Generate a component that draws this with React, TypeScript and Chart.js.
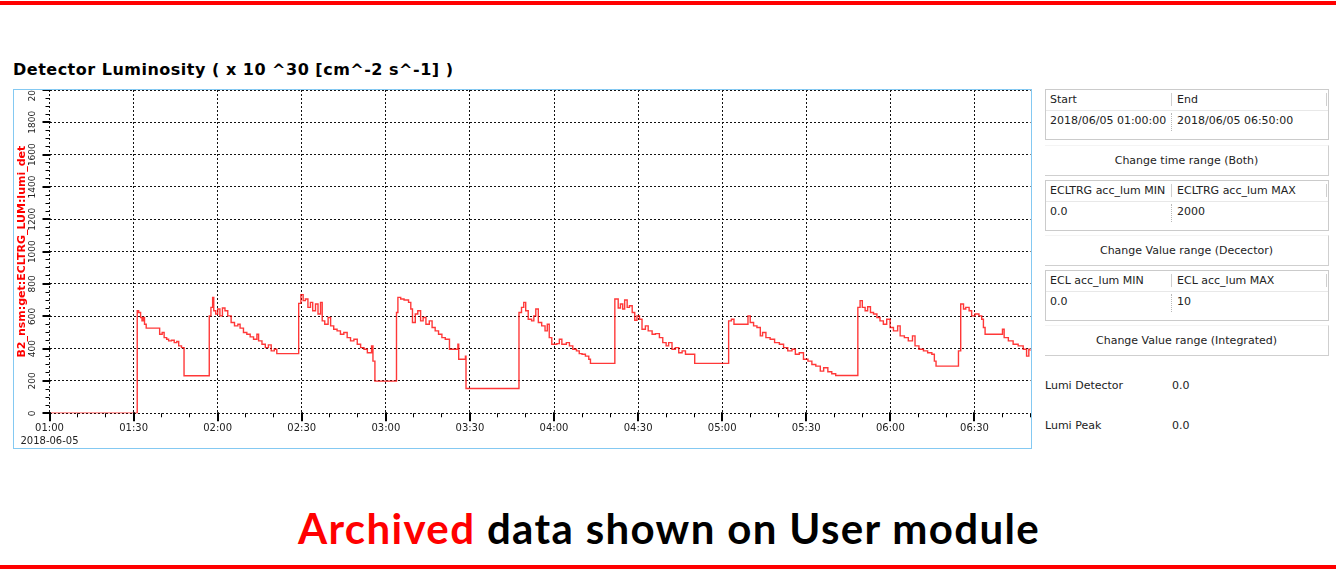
import React, { useEffect, useRef } from 'react';
import { Chart, registerables } from 'chart.js';

Chart.register(...registerables);

// ---- data (minutes after 01:00 on 2018-06-05, luminosity x10^30) ----
const SAMPLE_MINUTES = [
  0, 31.3, 31.8, 32.5, 33.0, 33.5, 33.9, 34.5, 39.3, 40.2, 40.9, 41.8, 42.5, 43.5, 44.5, 45.4, 46.1, 47.1,
  48.0, 57.0, 57.6, 58.2, 58.6, 59.3, 60.0, 60.8, 61.7, 62.6, 63.6, 64.8, 66.0, 67.2, 68.0, 69.2, 70.4, 71.6,
  72.8, 74.0, 74.6, 75.8, 77.0, 78.1, 79.1, 80.2, 81.1,
  88.9, 89.7, 90.5, 91.3, 92.2, 93.1, 93.9, 94.9, 95.8, 96.7, 97.3, 98.2, 99.4, 100.3, 101.4, 102.6, 103.8,
  105.0, 106.2, 107.4, 108.6, 109.8, 111.0, 112.2, 113.4, 114.9, 115.4, 116.1,
  123.8, 124.3, 125.3, 126.5, 128.1, 128.9, 129.5, 130.5, 131.4, 132.4, 133.3, 134.3, 135.5, 136.5, 137.6,
  138.8, 140.0, 141.2, 142.7, 145.7, 146.0, 148.4, 148.6,
  167.5, 168.4, 169.2, 169.9, 170.8, 172.0, 172.8, 173.5, 174.4, 175.6, 176.8, 177.6, 178.3, 179.2, 181.0,
  181.9, 182.8, 184.4, 185.5, 186.7, 188.0, 189.0, 190.0, 191.2, 192.4, 193.0,
  201.7, 202.9, 203.7, 204.5, 205.2, 206.1, 206.9, 207.9, 208.8, 209.6, 210.5, 211.4, 212.6, 213.6, 215.0,
  216.2, 217.6, 218.8, 220.0, 220.9, 222.1, 223.3, 224.5, 225.7, 226.9, 230.2,
  242.3, 243.3, 244.2, 249.2, 250.0, 251.2, 252.4, 253.6, 254.4, 255.6, 257.1, 258.7, 260.4, 261.9, 263.4,
  264.9, 266.1, 267.5, 269.0, 270.6, 272.0, 273.4, 275.0, 276.2, 277.7, 279.1, 280.5,
  288.4, 289.2, 290.0, 291.0, 291.9, 292.9, 294.0, 295.2, 296.3, 297.5, 298.7, 299.9, 301.1, 302.6, 303.5,
  305.0, 306.4, 307.9, 308.8, 310.2, 311.8, 313.3, 314.8, 315.7, 316.3,
  324.3, 325.1, 326.1, 326.9, 328.1, 329.0, 330.2, 331.6, 332.6, 333.2, 333.8, 340.0, 340.6, 342.1, 343.8,
  345.6, 347.4, 348.6, 349.4, 350.0,
];

const LUMI_VALUES = [
  0, 634, 624, 593, 572, 593, 551, 527, 489, 500, 468, 458, 448, 452, 437, 444, 417, 406,
  232, 603, 655, 717, 634, 614, 645, 603, 651, 634, 603, 562, 541, 551, 527, 500, 489, 473,
  458, 489, 448, 427, 406, 423, 386, 396, 369,
  680, 734, 697, 707, 655, 686, 634, 676, 614, 686, 572, 551, 593, 541, 520, 510, 489,
  500, 468, 448, 458, 427, 406, 396, 375, 417, 323, 199,
  624, 717, 707, 701, 686, 645, 562, 614, 634, 572, 593, 551, 572, 531, 510,
  489, 468, 458, 396, 427, 334, 354, 153,
  624, 655, 686, 634, 582, 572, 603, 645, 562, 541, 510, 551, 468, 427, 431,
  458, 427, 437, 417, 396, 386, 369, 365, 354, 334, 309,
  707, 651, 676, 645, 701, 655, 665, 624, 576, 603, 582, 520, 541, 510, 489,
  493, 468, 437, 417, 437, 396, 406, 375, 386, 365, 309,
  572, 582, 551, 603, 562, 541, 531, 479, 500, 468, 458, 437, 427, 406, 386,
  396, 365, 375, 334, 323, 302, 292, 261, 282, 257, 245, 234,
  655, 697, 655, 634, 659, 624, 614, 593, 572, 551, 582, 531, 510, 541, 479,
  468, 448, 479, 417, 396, 386, 375, 365, 323, 292,
  386, 676, 645, 655, 634, 603, 614, 603, 582, 531, 489, 520, 468, 448, 427,
  417, 396, 354, 396, 385,
];

const START_MINUTE_OF_DAY = 60; // 01:00
const START_DATE = '2018-06-05';
const X_MAX = 350; // 06:50
const X_MAJOR = 30;
const X_MINOR = 10;
const Y_MAX = 2000;
const Y_MAJOR = 200;
const Y_MINOR = 50;

const CHART_TITLE = 'Detector Luminosity ( x 10 ^30 [cm^-2 s^-1] )';
const Y_TITLE = 'B2_nsm:get:ECLTRG_LUM:lumi_det';
const FONT = "'DejaVu Sans'";

function hhmm(offset: number): string {
  const total = Math.round(START_MINUTE_OF_DAY + offset);
  const h = Math.floor(total / 60);
  const m = total % 60;
  return String(h).padStart(2, '0') + ':' + String(m).padStart(2, '0');
}

const tickMarks = {
  id: 'tickMarks',
  afterDraw(chart: any) {
    const { ctx, chartArea } = chart;
    const x = chart.scales.x;
    const y = chart.scales.y;
    ctx.save();
    ctx.strokeStyle = '#000';
    for (let v = 0; v <= X_MAX; v += X_MINOR) {
      const major = v % X_MAJOR === 0;
      const p = x.getPixelForValue(v);
      ctx.lineWidth = major ? 2 : 1;
      const px = major ? Math.round(p) : Math.floor(p) + 0.5;
      ctx.beginPath();
      ctx.moveTo(px, chartArea.bottom - (major ? 1 : 0));
      ctx.lineTo(px, chartArea.bottom + (major ? 8 : 4));
      ctx.stroke();
    }
    for (let v = 0; v <= Y_MAX; v += Y_MINOR) {
      const major = v % Y_MAJOR === 0;
      const p = y.getPixelForValue(v);
      ctx.lineWidth = major ? 2 : 1;
      const py = major ? Math.round(p) : Math.floor(p) + 0.5;
      ctx.beginPath();
      ctx.moveTo(chartArea.left - (major ? 7 : 4), py);
      ctx.lineTo(chartArea.left + (major ? 1 : 0), py);
      ctx.stroke();
    }
    ctx.restore();
  },
};

function LumiChart() {
  const ref = useRef<HTMLCanvasElement | null>(null);
  useEffect(() => {
    if (!ref.current) return;
    const points = SAMPLE_MINUTES.map((t, i) => ({ x: t, y: LUMI_VALUES[i] }));
    const chart = new Chart(ref.current, {
      type: 'line',
      data: {
        datasets: [
          {
            data: points,
            borderColor: 'rgba(255,0,0,0.78)',
            borderWidth: 1.4,
            pointRadius: 0,
            stepped: true,
            fill: false,
          } as any,
        ],
      },
      options: {
        animation: false,
        responsive: false,
        maintainAspectRatio: false,
        devicePixelRatio: 1,
        layout: { padding: { left: 0, right: 0.5, top: 0, bottom: 0 } },
        plugins: {
          legend: { display: false },
          tooltip: { enabled: false },
          title: { display: false },
        },
        scales: {
          x: {
            type: 'linear',
            min: 0,
            max: X_MAX,
            afterFit: (s: any) => {
              s.height = 34.7;
              s.paddingLeft = 0;
              s.paddingRight = 0;
            },
            ticks: {
              stepSize: X_MAJOR,
              includeBounds: false,
              autoSkip: false,
              maxRotation: 0,
              minRotation: 0,
              padding: 9,
              color: '#222',
              font: { family: FONT, size: 10, lineHeight: 1.3 },
              callback: (v: any) => (Number(v) === 0 ? [hhmm(0), START_DATE] : hhmm(Number(v))),
            },
            grid: { color: '#111', lineWidth: 1, drawTicks: false },
            border: { display: false, dash: [2, 2] },
          } as any,
          y: {
            type: 'linear',
            min: 0,
            max: Y_MAX,
            afterFit: (s: any) => {
              s.width = 35.5;
              s.paddingTop = 0;
              s.paddingBottom = 0;
            },
            ticks: {
              stepSize: Y_MAJOR,
              minRotation: 90,
              maxRotation: 90,
              crossAlign: 'center',
              padding: 5,
              color: '#222',
              font: { family: FONT, size: 9 },
              callback: (v: any) => String(v),
            },
            title: {
              display: true,
              text: Y_TITLE,
              color: '#ff0000',
              font: { family: FONT, size: 11, weight: 'bold' },
              padding: { top: 1.6, bottom: 0 },
            },
            grid: { color: '#111', lineWidth: 1, drawTicks: false },
            border: { display: false, dash: [2, 2] },
          } as any,
        },
      },
      plugins: [tickMarks],
    });
    return () => chart.destroy();
  }, []);
  return <canvas ref={ref} width={1017} height={358} style={{ display: 'block' }} />;
}

const txt: React.CSSProperties = {
  position: 'absolute',
  fontFamily: FONT,
  fontSize: 11,
  color: '#222',
  whiteSpace: 'nowrap',
  height: 20,
  lineHeight: '20px',
};

function Label({ x, cy, children }: { x: number; cy: number; children: React.ReactNode }) {
  return <div style={{ ...txt, left: x, top: cy - 10 }}>{children}</div>;
}

function RangeTable({ top, h1, h2, v1, v2 }: { top: number; h1: string; h2: string; v1: string; v2: string }) {
  return (
    <>
      <div style={{ position: 'absolute', left: 1045, top, width: 284, height: 51, border: '1px solid #cbcbcb', boxSizing: 'border-box', background: '#fff' }} />
      <div style={{ position: 'absolute', left: 1046, top: top + 21, width: 282, height: 1, background: '#e8e8e8' }} />
      <div style={{ position: 'absolute', left: 1171, top: top + 4, width: 1, height: 13, background: '#cfcfcf' }} />
      <div style={{ position: 'absolute', left: 1326, top: top + 4, width: 1, height: 13, background: '#cfcfcf' }} />
      <div style={{ position: 'absolute', left: 1171, top: top + 24, width: 0, height: 18, borderLeft: '1px dotted #b8b8b8' }} />
      <Label x={1050} cy={top + 11}>{h1}</Label>
      <Label x={1177} cy={top + 11}>{h2}</Label>
      <Label x={1050} cy={top + 32}>{v1}</Label>
      <Label x={1177} cy={top + 32}>{v2}</Label>
    </>
  );
}

function PanelButton({ top, label }: { top: number; label: string }) {
  return (
    <div
      style={{
        position: 'absolute', left: 1045, top, width: 284, height: 31, boxSizing: 'border-box',
        borderRight: '1px solid #cfcfcf', borderBottom: '1px solid #cfcfcf', borderTop: '1px solid #f4f4f4',
        fontFamily: FONT, fontSize: 11, color: '#222', textAlign: 'center', lineHeight: '29px', whiteSpace: 'nowrap',
      }}
    >
      {label}
    </div>
  );
}

export default function App() {
  return (
    <div style={{ position: 'absolute', left: 0, top: 0, width: 1336, height: 570, background: '#fff', overflow: 'hidden' }}>
      <div style={{ position: 'absolute', left: 0, top: 1, width: 1336, height: 4, background: '#ff0000' }} />
      <div style={{ position: 'absolute', left: 0, top: 565, width: 1336, height: 4, background: '#ff0000' }} />

      <div style={{ position: 'absolute', left: 13, top: 61, fontFamily: FONT, fontWeight: 'bold', fontSize: 16, letterSpacing: 0.5, lineHeight: '18.6px', color: '#000', whiteSpace: 'nowrap' }}>
        {CHART_TITLE}
      </div>

      <div style={{ position: 'absolute', left: 13, top: 89, width: 1019, height: 360, border: '1px solid #84c9f2', boxSizing: 'border-box', overflow: 'hidden' }}>
        <LumiChart />
      </div>

      <RangeTable top={89} h1="Start" h2="End" v1="2018/06/05 01:00:00" v2="2018/06/05 06:50:00" />
      <PanelButton top={145} label="Change time range (Both)" />
      <RangeTable top={180} h1="ECLTRG acc_lum MIN" h2="ECLTRG acc_lum MAX" v1="0.0" v2="2000" />
      <PanelButton top={235} label="Change Value range (Decector)" />
      <RangeTable top={270} h1="ECL acc_lum MIN" h2="ECL acc_lum MAX" v1="0.0" v2="10" />
      <PanelButton top={325} label="Change Value range (Integrated)" />
      <Label x={1045} cy={386}>Lumi Detector</Label>
      <Label x={1172} cy={386}>0.0</Label>
      <Label x={1045} cy={426}>Lumi Peak</Label>
      <Label x={1172} cy={426}>0.0</Label>

      <div style={{ position: 'absolute', left: 0, top: 503, width: 1338, textAlign: 'center', fontFamily: 'Lato', fontWeight: 700, fontSize: 42, letterSpacing: 1.35, lineHeight: '50.4px', color: '#000', whiteSpace: 'nowrap' }}>
        <span style={{ color: '#ff0000' }}>Archived</span> data shown on User module
      </div>
    </div>
  );
}
